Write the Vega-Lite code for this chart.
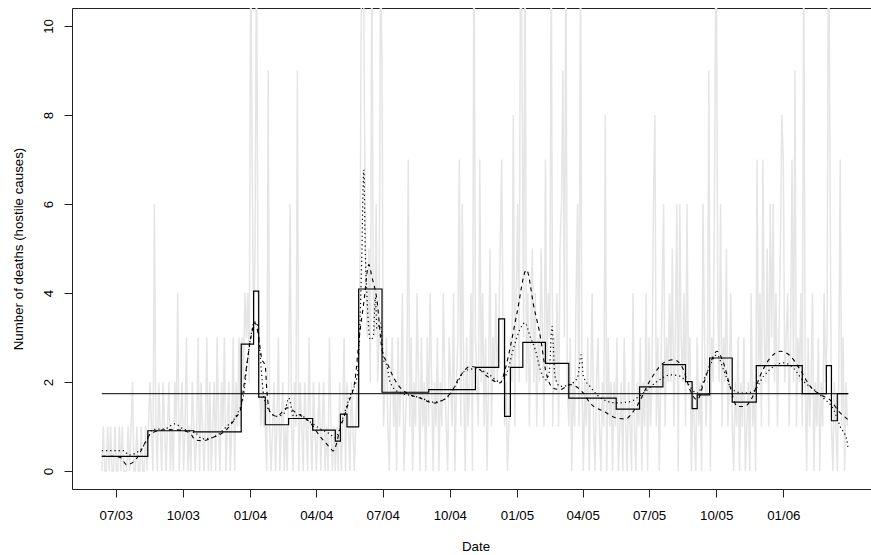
{
  "$schema": "https://vega.github.io/schema/vega-lite/v6.json",
  "width": 799,
  "height": 481,
  "autosize": {"type": "none"},
  "padding": {"left": 72, "top": 8, "right": 0, "bottom": 66},
  "config": {
    "view": {"stroke": null},
    "font": "Liberation Sans",
    "axis": {"grid": false, "domainColor": "#222", "tickColor": "#222", "labelColor": "#000", "titleColor": "#000", "labelFont": "Liberation Sans", "titleFont": "Liberation Sans", "labelFontSize": 13.3, "titleFontSize": 13.3, "titleFontWeight": "normal", "tickSize": 8, "domainWidth": 1, "tickWidth": 1}
  },
  "datasets": {
    "daily": [
      {"d":0,"v":0},{"d":2,"v":1},{"d":4,"v":0},{"d":6,"v":0},{"d":8,"v":1},{"d":10,"v":0},{"d":12,"v":1},{"d":14,"v":0},{"d":16,"v":0},{"d":18,"v":1},
      {"d":20,"v":0},{"d":22,"v":0},{"d":24,"v":1},{"d":26,"v":0},{"d":28,"v":1},{"d":30,"v":0},{"d":32,"v":0},{"d":34,"v":0},{"d":36,"v":1},{"d":38,"v":0},
      {"d":40,"v":1},{"d":42,"v":2},{"d":44,"v":0},{"d":46,"v":0},{"d":48,"v":1},{"d":50,"v":0},{"d":52,"v":0},{"d":54,"v":1},{"d":56,"v":0},{"d":58,"v":0},
      {"d":60,"v":1},{"d":62,"v":0},{"d":64,"v":1},{"d":66,"v":2},{"d":68,"v":1},{"d":70,"v":0},{"d":72,"v":6},{"d":74,"v":1},{"d":76,"v":0},{"d":78,"v":2},
      {"d":80,"v":1},{"d":82,"v":0},{"d":84,"v":2},{"d":86,"v":1},{"d":88,"v":0},{"d":90,"v":1},{"d":92,"v":2},{"d":94,"v":0},{"d":96,"v":1},{"d":98,"v":0},
      {"d":100,"v":2},{"d":102,"v":1},{"d":104,"v":4},{"d":106,"v":0},{"d":108,"v":1},{"d":110,"v":2},{"d":112,"v":0},{"d":114,"v":1},{"d":116,"v":3},{"d":118,"v":0},
      {"d":120,"v":1},{"d":122,"v":0},{"d":124,"v":2},{"d":126,"v":1},{"d":128,"v":0},{"d":130,"v":1},{"d":132,"v":3},{"d":134,"v":0},{"d":136,"v":2},{"d":138,"v":1},
      {"d":140,"v":0},{"d":142,"v":1},{"d":144,"v":3},{"d":146,"v":0},{"d":148,"v":2},{"d":150,"v":0},{"d":152,"v":1},{"d":154,"v":2},{"d":156,"v":0},{"d":158,"v":3},
      {"d":160,"v":1},{"d":162,"v":0},{"d":164,"v":2},{"d":166,"v":1},{"d":168,"v":3},{"d":170,"v":0},{"d":172,"v":1},{"d":174,"v":2},{"d":176,"v":0},{"d":178,"v":1},
      {"d":180,"v":3},{"d":182,"v":0},{"d":184,"v":2},{"d":186,"v":1},{"d":188,"v":3},{"d":190,"v":1},{"d":192,"v":3},{"d":194,"v":2},{"d":196,"v":4},{"d":198,"v":3},
      {"d":200,"v":4},{"d":202,"v":2},{"d":204,"v":12},{"d":206,"v":7},{"d":208,"v":3},{"d":210,"v":5},{"d":212,"v":12},{"d":214,"v":4},{"d":216,"v":2},{"d":218,"v":1},
      {"d":220,"v":2},{"d":222,"v":1},{"d":224,"v":1},{"d":226,"v":0},{"d":228,"v":9},{"d":230,"v":1},{"d":232,"v":0},{"d":234,"v":1},{"d":236,"v":2},{"d":238,"v":0},
      {"d":240,"v":1},{"d":242,"v":3},{"d":244,"v":0},{"d":246,"v":1},{"d":248,"v":2},{"d":250,"v":0},{"d":252,"v":1},{"d":254,"v":0},{"d":256,"v":2},{"d":258,"v":6},
      {"d":260,"v":1},{"d":262,"v":0},{"d":264,"v":2},{"d":266,"v":1},{"d":268,"v":9},{"d":270,"v":0},{"d":272,"v":2},{"d":274,"v":1},{"d":276,"v":0},{"d":278,"v":2},
      {"d":280,"v":1},{"d":282,"v":0},{"d":284,"v":3},{"d":286,"v":1},{"d":288,"v":0},{"d":290,"v":2},{"d":292,"v":1},{"d":294,"v":0},{"d":296,"v":1},{"d":298,"v":2},
      {"d":300,"v":0},{"d":302,"v":1},{"d":304,"v":2},{"d":306,"v":0},{"d":308,"v":1},{"d":310,"v":0},{"d":312,"v":3},{"d":314,"v":1},{"d":316,"v":0},{"d":318,"v":1},
      {"d":320,"v":0},{"d":322,"v":1},{"d":324,"v":0},{"d":326,"v":2},{"d":328,"v":0},{"d":330,"v":1},{"d":332,"v":3},{"d":334,"v":0},{"d":336,"v":2},{"d":338,"v":1},
      {"d":340,"v":0},{"d":342,"v":2},{"d":344,"v":1},{"d":346,"v":0},{"d":348,"v":1},{"d":350,"v":2},{"d":352,"v":1},{"d":354,"v":5},{"d":356,"v":12},{"d":358,"v":13},
      {"d":360,"v":8},{"d":362,"v":4},{"d":364,"v":3},{"d":366,"v":5},{"d":368,"v":2},{"d":370,"v":12},{"d":372,"v":4},{"d":374,"v":3},{"d":376,"v":6},{"d":378,"v":2},
      {"d":380,"v":3},{"d":382,"v":12},{"d":384,"v":9},{"d":386,"v":1},{"d":388,"v":2},{"d":390,"v":3},{"d":392,"v":1},{"d":394,"v":0},{"d":396,"v":2},{"d":398,"v":3},
      {"d":400,"v":1},{"d":402,"v":2},{"d":404,"v":0},{"d":406,"v":3},{"d":408,"v":1},{"d":410,"v":2},{"d":412,"v":4},{"d":414,"v":0},{"d":416,"v":1},{"d":418,"v":2},
      {"d":420,"v":7},{"d":422,"v":1},{"d":424,"v":3},{"d":426,"v":0},{"d":428,"v":2},{"d":430,"v":1},{"d":432,"v":4},{"d":434,"v":2},{"d":436,"v":0},{"d":438,"v":3},
      {"d":440,"v":1},{"d":442,"v":2},{"d":444,"v":0},{"d":446,"v":3},{"d":448,"v":1},{"d":450,"v":4},{"d":452,"v":2},{"d":454,"v":0},{"d":456,"v":2},{"d":458,"v":1},
      {"d":460,"v":3},{"d":462,"v":0},{"d":464,"v":2},{"d":466,"v":1},{"d":468,"v":4},{"d":470,"v":2},{"d":472,"v":1},{"d":474,"v":0},{"d":476,"v":3},{"d":478,"v":2},
      {"d":480,"v":1},{"d":482,"v":4},{"d":484,"v":0},{"d":486,"v":2},{"d":488,"v":3},{"d":490,"v":7},{"d":492,"v":1},{"d":494,"v":6},{"d":496,"v":2},{"d":498,"v":0},
      {"d":500,"v":3},{"d":502,"v":1},{"d":504,"v":2},{"d":506,"v":4},{"d":508,"v":0},{"d":510,"v":13},{"d":512,"v":3},{"d":514,"v":2},{"d":516,"v":1},{"d":518,"v":7},
      {"d":520,"v":2},{"d":522,"v":4},{"d":524,"v":1},{"d":526,"v":3},{"d":528,"v":0},{"d":530,"v":2},{"d":532,"v":5},{"d":534,"v":1},{"d":536,"v":3},{"d":538,"v":2},
      {"d":540,"v":4},{"d":542,"v":2},{"d":544,"v":3},{"d":546,"v":5},{"d":548,"v":7},{"d":550,"v":3},{"d":552,"v":1},{"d":554,"v":2},{"d":556,"v":0},{"d":558,"v":1},
      {"d":560,"v":3},{"d":562,"v":2},{"d":564,"v":8},{"d":566,"v":1},{"d":568,"v":4},{"d":570,"v":6},{"d":572,"v":2},{"d":574,"v":13},{"d":576,"v":9},{"d":578,"v":3},
      {"d":580,"v":12},{"d":582,"v":2},{"d":584,"v":4},{"d":586,"v":1},{"d":588,"v":3},{"d":590,"v":5},{"d":592,"v":2},{"d":594,"v":4},{"d":596,"v":1},{"d":598,"v":3},
      {"d":600,"v":2},{"d":602,"v":5},{"d":604,"v":3},{"d":606,"v":1},{"d":608,"v":7},{"d":610,"v":2},{"d":612,"v":4},{"d":614,"v":3},{"d":616,"v":12},{"d":618,"v":1},
      {"d":620,"v":3},{"d":622,"v":2},{"d":624,"v":4},{"d":626,"v":1},{"d":628,"v":5},{"d":630,"v":6},{"d":632,"v":9},{"d":634,"v":3},{"d":636,"v":12},{"d":638,"v":2},
      {"d":640,"v":1},{"d":642,"v":3},{"d":644,"v":0},{"d":646,"v":2},{"d":648,"v":1},{"d":650,"v":4},{"d":652,"v":6},{"d":654,"v":1},{"d":656,"v":12},{"d":658,"v":2},
      {"d":660,"v":0},{"d":662,"v":2},{"d":664,"v":1},{"d":666,"v":3},{"d":668,"v":0},{"d":670,"v":2},{"d":672,"v":4},{"d":674,"v":1},{"d":676,"v":0},{"d":678,"v":2},
      {"d":680,"v":3},{"d":682,"v":1},{"d":684,"v":0},{"d":686,"v":2},{"d":688,"v":1},{"d":690,"v":8},{"d":692,"v":0},{"d":694,"v":3},{"d":696,"v":1},{"d":698,"v":2},
      {"d":700,"v":0},{"d":702,"v":2},{"d":704,"v":1},{"d":706,"v":3},{"d":708,"v":0},{"d":710,"v":1},{"d":712,"v":2},{"d":714,"v":0},{"d":716,"v":3},{"d":718,"v":1},
      {"d":720,"v":0},{"d":722,"v":2},{"d":724,"v":1},{"d":726,"v":0},{"d":728,"v":4},{"d":730,"v":1},{"d":732,"v":0},{"d":734,"v":2},{"d":736,"v":1},{"d":738,"v":3},
      {"d":740,"v":0},{"d":742,"v":2},{"d":744,"v":1},{"d":746,"v":4},{"d":748,"v":0},{"d":750,"v":3},{"d":752,"v":1},{"d":754,"v":2},{"d":756,"v":6},{"d":758,"v":8},
      {"d":760,"v":1},{"d":762,"v":3},{"d":764,"v":0},{"d":766,"v":2},{"d":768,"v":4},{"d":770,"v":6},{"d":772,"v":1},{"d":774,"v":3},{"d":776,"v":2},{"d":778,"v":4},
      {"d":780,"v":2},{"d":782,"v":5},{"d":784,"v":1},{"d":786,"v":3},{"d":788,"v":6},{"d":790,"v":0},{"d":792,"v":6},{"d":794,"v":3},{"d":796,"v":2},{"d":798,"v":4},
      {"d":800,"v":1},{"d":802,"v":6},{"d":804,"v":2},{"d":806,"v":3},{"d":808,"v":0},{"d":810,"v":2},{"d":812,"v":1},{"d":814,"v":0},{"d":816,"v":3},{"d":818,"v":1},
      {"d":820,"v":2},{"d":822,"v":0},{"d":824,"v":6},{"d":826,"v":3},{"d":828,"v":1},{"d":830,"v":2},{"d":832,"v":9},{"d":834,"v":0},{"d":836,"v":3},{"d":838,"v":2},
      {"d":840,"v":7},{"d":842,"v":13},{"d":844,"v":4},{"d":846,"v":2},{"d":848,"v":6},{"d":850,"v":1},{"d":852,"v":3},{"d":854,"v":2},{"d":856,"v":5},{"d":858,"v":1},
      {"d":860,"v":2},{"d":862,"v":4},{"d":864,"v":1},{"d":866,"v":0},{"d":868,"v":2},{"d":870,"v":1},{"d":872,"v":3},{"d":874,"v":0},{"d":876,"v":2},{"d":878,"v":1},
      {"d":880,"v":3},{"d":882,"v":0},{"d":884,"v":1},{"d":886,"v":2},{"d":888,"v":0},{"d":890,"v":4},{"d":892,"v":1},{"d":894,"v":2},{"d":896,"v":0},{"d":898,"v":7},
      {"d":900,"v":2},{"d":902,"v":4},{"d":904,"v":1},{"d":906,"v":7},{"d":908,"v":3},{"d":910,"v":2},{"d":912,"v":5},{"d":914,"v":1},{"d":916,"v":6},{"d":918,"v":3},
      {"d":920,"v":6},{"d":922,"v":2},{"d":924,"v":4},{"d":926,"v":1},{"d":928,"v":3},{"d":930,"v":5},{"d":932,"v":8},{"d":934,"v":7},{"d":936,"v":2},{"d":938,"v":3},
      {"d":940,"v":4},{"d":942,"v":1},{"d":944,"v":3},{"d":946,"v":7},{"d":948,"v":2},{"d":950,"v":9},{"d":952,"v":1},{"d":954,"v":3},{"d":956,"v":2},{"d":958,"v":4},
      {"d":960,"v":1},{"d":962,"v":12},{"d":964,"v":2},{"d":966,"v":0},{"d":968,"v":3},{"d":970,"v":1},{"d":972,"v":2},{"d":974,"v":4},{"d":976,"v":0},{"d":978,"v":2},
      {"d":980,"v":1},{"d":982,"v":3},{"d":984,"v":0},{"d":986,"v":2},{"d":988,"v":1},{"d":990,"v":4},{"d":992,"v":2},{"d":994,"v":3},{"d":996,"v":13},{"d":998,"v":7},
      {"d":1000,"v":1},{"d":1002,"v":0},{"d":1004,"v":2},{"d":1006,"v":1},{"d":1008,"v":0},{"d":1010,"v":2},{"d":1012,"v":7},{"d":1014,"v":1},{"d":1016,"v":3},{"d":1018,"v":0},
      {"d":1020,"v":2},{"d":1022,"v":1}
    ],
    "mean": [{"start": 0, "end": 1023, "m": 1.737}],
    "steps": [
      {"d":0,"s":0.33},{"d":63,"s":0.905},{"d":126,"s":0.88},{"d":191,"s":2.85},{"d":208,"s":4.04},{"d":215,"s":1.66},{"d":224,"s":1.04},{"d":256,"s":1.18},{"d":289,"s":0.92},{"d":320,"s":0.67},{"d":327,"s":1.28},{"d":336,"s":0.99},{"d":352,"s":4.09},{"d":384,"s":1.77},{"d":448,"s":1.83},{"d":512,"s":2.33},{"d":544,"s":3.42},{"d":552,"s":1.23},{"d":560,"s":2.33},{"d":577,"s":2.89},{"d":608,"s":2.42},{"d":640,"s":1.64},{"d":705,"s":1.39},{"d":737,"s":1.89},{"d":769,"s":2.39},{"d":800,"s":2.01},{"d":809,"s":1.40},{"d":816,"s":1.71},{"d":833,"s":2.54},{"d":864,"s":1.55},{"d":897,"s":2.37},{"d":960,"s":1.74},{"d":993,"s":2.37},{"d":1000,"s":1.13},{"d":1008,"s":1.74},{"d":1023,"s":1.74}
    ],
    "dashed": [
      {"d":0,"y":0.33},{"d":18,"y":0.33},{"d":26,"y":0.30},{"d":34,"y":0.14},{"d":48,"y":0.29},{"d":59,"y":0.63},{"d":68,"y":0.85},{"d":89,"y":0.93},{"d":107,"y":0.92},{"d":121,"y":0.85},{"d":128,"y":0.70},{"d":137,"y":0.68},{"d":153,"y":0.76},{"d":171,"y":0.93},{"d":183,"y":1.19},{"d":190,"y":1.38},{"d":194,"y":1.83},{"d":199,"y":2.43},{"d":203,"y":2.88},{"d":210,"y":3.33},{"d":214,"y":3.10},{"d":219,"y":2.54},{"d":224,"y":2.35},{"d":226,"y":1.83},{"d":231,"y":1.30},{"d":240,"y":1.23},{"d":254,"y":1.42},{"d":267,"y":1.30},{"d":286,"y":1.08},{"d":299,"y":0.78},{"d":313,"y":0.52},{"d":317,"y":0.45},{"d":327,"y":0.97},{"d":338,"y":1.53},{"d":347,"y":2.05},{"d":353,"y":3.02},{"d":359,"y":3.78},{"d":366,"y":4.64},{"d":370,"y":4.37},{"d":377,"y":3.85},{"d":384,"y":2.73},{"d":391,"y":2.43},{"d":404,"y":1.98},{"d":418,"y":1.75},{"d":436,"y":1.64},{"d":455,"y":1.53},{"d":478,"y":1.75},{"d":491,"y":2.13},{"d":505,"y":2.35},{"d":516,"y":2.30},{"d":528,"y":2.13},{"d":546,"y":1.98},{"d":553,"y":2.30},{"d":560,"y":2.80},{"d":569,"y":3.55},{"d":582,"y":4.52},{"d":592,"y":3.70},{"d":601,"y":3.02},{"d":608,"y":2.28},{"d":619,"y":1.86},{"d":628,"y":1.83},{"d":642,"y":1.94},{"d":660,"y":1.75},{"d":669,"y":1.53},{"d":688,"y":1.34},{"d":706,"y":1.19},{"d":717,"y":1.17},{"d":733,"y":1.45},{"d":752,"y":2.05},{"d":770,"y":2.43},{"d":784,"y":2.50},{"d":797,"y":2.28},{"d":806,"y":1.83},{"d":816,"y":1.60},{"d":825,"y":1.98},{"d":836,"y":2.50},{"d":843,"y":2.69},{"d":852,"y":2.43},{"d":861,"y":1.90},{"d":871,"y":1.45},{"d":880,"y":1.45},{"d":891,"y":1.64},{"d":902,"y":2.13},{"d":916,"y":2.54},{"d":930,"y":2.69},{"d":944,"y":2.58},{"d":957,"y":2.28},{"d":971,"y":1.90},{"d":985,"y":1.71},{"d":998,"y":1.60},{"d":1010,"y":1.34},{"d":1023,"y":1.15}
    ],
    "dotted": [
      {"d":0,"y":0.46},{"d":18,"y":0.46},{"d":30,"y":0.46},{"d":37,"y":0.36},{"d":53,"y":0.48},{"d":62,"y":0.70},{"d":69,"y":0.93},{"d":87,"y":0.95},{"d":100,"y":1.06},{"d":111,"y":0.95},{"d":121,"y":0.89},{"d":129,"y":0.85},{"d":138,"y":0.72},{"d":153,"y":0.76},{"d":171,"y":1.00},{"d":185,"y":1.27},{"d":194,"y":1.68},{"d":199,"y":2.40},{"d":203,"y":2.90},{"d":209,"y":3.35},{"d":213,"y":3.30},{"d":217,"y":2.60},{"d":221,"y":1.80},{"d":226,"y":1.45},{"d":240,"y":1.23},{"d":250,"y":1.30},{"d":256,"y":1.64},{"d":263,"y":1.23},{"d":272,"y":1.27},{"d":281,"y":1.15},{"d":290,"y":1.05},{"d":299,"y":0.95},{"d":311,"y":0.85},{"d":320,"y":0.75},{"d":331,"y":1.23},{"d":340,"y":1.68},{"d":350,"y":2.13},{"d":353,"y":3.00},{"d":356,"y":4.60},{"d":359,"y":6.77},{"d":361,"y":4.97},{"d":363,"y":4.07},{"d":368,"y":2.95},{"d":372,"y":3.02},{"d":375,"y":3.90},{"d":377,"y":3.20},{"d":382,"y":3.33},{"d":386,"y":2.50},{"d":391,"y":2.35},{"d":395,"y":2.00},{"d":409,"y":1.75},{"d":423,"y":1.70},{"d":436,"y":1.65},{"d":454,"y":1.55},{"d":471,"y":1.62},{"d":484,"y":1.90},{"d":498,"y":2.25},{"d":512,"y":2.30},{"d":528,"y":2.20},{"d":546,"y":2.00},{"d":555,"y":2.20},{"d":565,"y":2.80},{"d":573,"y":3.18},{"d":580,"y":3.33},{"d":587,"y":3.02},{"d":594,"y":2.73},{"d":601,"y":2.28},{"d":608,"y":2.05},{"d":613,"y":2.20},{"d":617,"y":3.25},{"d":621,"y":2.13},{"d":628,"y":1.90},{"d":642,"y":1.95},{"d":652,"y":2.10},{"d":657,"y":2.61},{"d":660,"y":2.13},{"d":669,"y":1.90},{"d":688,"y":1.60},{"d":706,"y":1.53},{"d":724,"y":1.56},{"d":742,"y":1.75},{"d":761,"y":2.01},{"d":779,"y":2.16},{"d":793,"y":2.13},{"d":802,"y":1.98},{"d":816,"y":1.75},{"d":829,"y":2.20},{"d":843,"y":2.61},{"d":852,"y":2.28},{"d":864,"y":1.83},{"d":880,"y":1.75},{"d":893,"y":1.79},{"d":907,"y":2.13},{"d":921,"y":2.35},{"d":934,"y":2.43},{"d":948,"y":2.31},{"d":962,"y":2.01},{"d":976,"y":1.83},{"d":989,"y":1.64},{"d":1003,"y":1.38},{"d":1012,"y":1.00},{"d":1021,"y":0.70},{"d":1023,"y":0.48}
    ]
  },
  "resolve": {"axis": {"x": "independent"}},
  "layer": [
    {
      "data": {"name": "daily"},
      "mark": {"type": "line", "color": "#e5e5e5", "strokeWidth": 1.5, "clip": true},
      "encoding": {
        "x": {"field": "d", "type": "quantitative", "scale": {"domain": [-40.9, 1054.2], "nice": false, "zero": false},
          "axis": {"orient": "bottom", "values": [19, 111, 203, 294, 385, 477, 569, 659, 750, 842, 934],
            "labelExpr": "datum.value == 19 ? '07/03' : datum.value == 111 ? '10/03' : datum.value == 203 ? '01/04' : datum.value == 294 ? '04/04' : datum.value == 385 ? '07/04' : datum.value == 477 ? '10/04' : datum.value == 569 ? '01/05' : datum.value == 659 ? '04/05' : datum.value == 750 ? '07/05' : datum.value == 842 ? '10/05' : '01/06'",
            "labelBaseline": "alphabetic", "labelPadding": 22.3, "labelFlush": false, "labelOverlap": false,
            "title": "Date", "titleX": 403.5, "titleY": 61.7, "titleAlign": "center", "titleBaseline": "alphabetic"}},
        "y": {"field": "v", "type": "quantitative", "scale": {"domain": [-0.404, 10.404], "nice": false, "zero": false},
          "axis": {"values": [0, 2, 4, 6, 8, 10], "labelAngle": -90, "labelAlign": "center", "labelBaseline": "alphabetic", "labelPadding": 11.3, "labelFlush": false, "labelOverlap": false,
            "title": "Number of deaths (hostile causes)", "titleAngle": -90, "titleAlign": "center", "titleBaseline": "alphabetic", "titleX": -49.5, "titleY": 240.5}}
      }
    },
    {
      "data": {"name": "mean"},
      "mark": {"type": "rule", "color": "#000", "strokeWidth": 1},
      "encoding": {
        "x": {"field": "start", "type": "quantitative", "axis": {"orient": "top", "labels": false, "ticks": false, "title": null}},
        "x2": {"field": "end"},
        "y": {"field": "m", "type": "quantitative"}
      }
    },
    {
      "data": {"name": "steps"},
      "mark": {"type": "line", "color": "#000", "strokeWidth": 1.2, "interpolate": "step-after"},
      "encoding": {
        "x": {"field": "d", "type": "quantitative", "axis": null},
        "y": {"field": "s", "type": "quantitative"}
      }
    },
    {
      "data": {"name": "dashed"},
      "mark": {"type": "line", "color": "#000", "strokeWidth": 1.1, "strokeDash": [4, 4], "interpolate": "monotone"},
      "encoding": {
        "x": {"field": "d", "type": "quantitative", "axis": null},
        "y": {"field": "y", "type": "quantitative"}
      }
    },
    {
      "data": {"name": "dotted"},
      "mark": {"type": "line", "color": "#000", "strokeWidth": 1.2, "strokeDash": [1.2, 3], "interpolate": "monotone"},
      "encoding": {
        "x": {"field": "d", "type": "quantitative", "axis": null},
        "y": {"field": "y", "type": "quantitative"}
      }
    }
  ]
}
